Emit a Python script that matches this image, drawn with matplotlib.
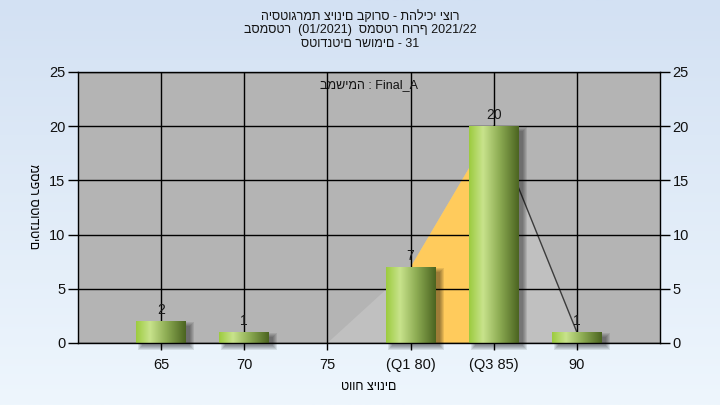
import numpy as np
import matplotlib
matplotlib.use("Agg")
import matplotlib.pyplot as plt
import matplotlib.transforms as mtransforms
from matplotlib.colors import LinearSegmentedColormap
from matplotlib.patches import Polygon, Rectangle

plt.rcParams['font.family'] = ['Liberation Sans', 'DejaVu Sans']

# ---- data ----
categories = ["65", "70", "75", "(Q1 80)", "(Q3 85)", "90"]
counts = [2, 1, 0, 7, 20, 1]
poly_start = 2      # frequency polygon starts at category "75"
q1_index = 3
q3_index = 4
yticks = [0, 5, 10, 15, 20, 25]

title_lines = ["היסטוגרמת ציונים בקורס - תהליכי יצור",
               "בסמסטר  (01/2021)  סמסטר חורף 2021/22",
               "סטודנטים רשומים - 31"]
annotation = "במשימה : Final_A"
xlabel = "טווח ציונים"
ylabel = "מספר סטודנטים"

fig = plt.figure(figsize=(7.2, 4.05), dpi=100)

# figure background gradient
bg = fig.add_axes([0, 0, 1, 1], zorder=-10)
grad = np.linspace(0, 1, 256).reshape(-1, 1)
bg_cmap = LinearSegmentedColormap.from_list("bg", ["#d3e1f3", "#eef6fd"])
bg.imshow(grad, aspect='auto', cmap=bg_cmap, extent=[0, 1, 0, 1], origin='upper')
bg.set_axis_off()

ax = fig.add_axes([78/720, 1-343/405, (660-78)/720, (343-72)/405])
ax.set_facecolor("#b4b4b4")

x = np.arange(len(categories))
ax.set_xlim(-1, len(categories))
ax.set_ylim(0, 25)

# frequency polygon (gray) and inter-quartile area (orange)
px = list(x[poly_start:])
py = list(counts[poly_start:])
gray_pts = [(px[0], 0)] + list(zip(px, py)) + [(px[-1], 0)]
ax.add_patch(Polygon(gray_pts, closed=True, facecolor="#c0c0c0", edgecolor='none', zorder=0.2))
orange_pts = [(x[q1_index], 0), (x[q1_index], counts[q1_index]),
              (x[q3_index], counts[q3_index]), (x[q3_index], 0)]
ax.add_patch(Polygon(orange_pts, closed=True, facecolor="#ffcb5c", edgecolor='none', zorder=0.3))
ax.plot([x[q3_index], x[-1]], [counts[q3_index], counts[-1]], color="#3c3c3c", lw=1.0, zorder=0.4)

# grid
ax.set_axisbelow(True)
ax.grid(True, color="black", lw=1.0)

# bars with gradient and soft shadow
bar_cmap = LinearSegmentedColormap.from_list(
    "bar", [(0.0, "#9ccb3e"), (0.28, "#c8e38c"), (0.6, "#8fae55"), (1.0, "#4b6420")])
hgrad = np.linspace(0, 1, 256).reshape(1, -1)
width = 0.6
xpp = 7 / 582.0    # data units per pixel (x)
ypp = 25 / 271.0   # data units per pixel (y)
shadow_tr = ax.transData + mtransforms.ScaledTranslation(5/100, -4/100, fig.dpi_scale_trans)
for xi, c in zip(x, counts):
    if c <= 0:
        continue
    layers = 5
    for k in range(layers):
        g = (layers - 1 - k) * 1.0 - 1.0
        sh = Rectangle((xi - width/2 - g*xpp, -g*ypp), width + 2*g*xpp, c + 2*g*ypp,
                       facecolor='black', edgecolor='none', alpha=0.09,
                       transform=shadow_tr, zorder=1.9, clip_on=False)
        ax.add_patch(sh)
    rect = Rectangle((xi - width/2, 0), width, c, facecolor="#8fae55", edgecolor='none', zorder=2)
    ax.add_patch(rect)
    im = ax.imshow(hgrad, aspect='auto', cmap=bar_cmap, extent=[xi - width/2, xi + width/2, 0, c],
                   zorder=2.5, interpolation='bilinear')
    im.set_clip_path(rect)
    ax.annotate(str(c), (xi, c), xytext=(0, 3), textcoords='offset points',
                ha='center', va='bottom', fontsize=10, color="#1a1a1a", zorder=4)

ax.set_xlim(-1, len(categories))
ax.set_ylim(0, 25)
ax.set_xticks(x)
ax.set_xticklabels(categories, fontsize=10.5, color="#101010")
ax.set_yticks(yticks)
ax.tick_params(axis='y', left=True, right=True, labelleft=True, labelright=True,
               direction='out', length=7, width=1, labelsize=10.5, labelcolor="#101010", pad=2)
ax.tick_params(axis='x', direction='out', length=5, width=1, pad=6)
for s in ax.spines.values():
    s.set_color("black")
    s.set_linewidth(1)
    s.set_zorder(3)

ax.text(0.5, 0.952, annotation, transform=ax.transAxes, ha='center', va='center',
        fontsize=9, color="#141414", zorder=5)

ax.set_xlabel(xlabel, fontsize=9, labelpad=6)
fig.text(33/720, 1-207/405, ylabel, rotation=270, ha='center', va='center', fontsize=9)

for t, yy in zip(title_lines, [17, 30, 44]):
    fig.text(0.5, 1 - yy/405, t, ha='center', va='center', fontsize=9, color="#141414")

fig.savefig("out.png", dpi=100)
